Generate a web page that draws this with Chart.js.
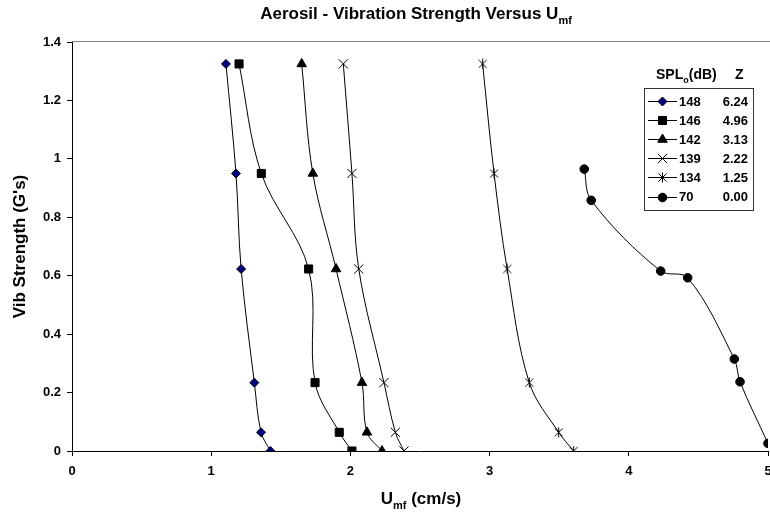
<!DOCTYPE html>
<html>
<head>
<meta charset="utf-8">
<script src="https://cdn.jsdelivr.net/npm/chart.js@4.4.1/dist/chart.umd.min.js"></script>
<style>
  html, body { margin: 0; padding: 0; background: #fff; }
  canvas { display: block; }
</style>
</head>
<body>
<canvas id="chart" width="770" height="519"></canvas>
<script>
// Vibration strength levels (G's), shared by the acoustic series
const vibStrength = [1.325, 0.95, 0.623, 0.234, 0.064, 0];
const vibStrength70 = [0.965, 0.858, 0.616, 0.593, 0.315, 0.237, 0.026];

// U_mf (cm/s) for each SPL level
const umf148 = [1.106, 1.178, 1.215, 1.31, 1.358, 1.425];
const umf146 = [1.20, 1.36, 1.70, 1.746, 1.92, 2.011];
const umf142 = [1.65, 1.73, 1.897, 2.083, 2.119, 2.227];
const umf139 = [1.949, 2.011, 2.06, 2.241, 2.323, 2.385];
const umf134 = [2.95, 3.032, 3.126, 3.285, 3.496, 3.604];
const umf70 = [3.68, 3.73, 4.229, 4.423, 4.758, 4.799, 5.0];

const splLabels = ['148', '146', '142', '139', '134', '70'];
const zValues = ['6.24', '4.96', '3.13', '2.22', '1.25', '0.00'];

const FONT = 'Liberation Sans, Arial, sans-serif';

// asterisk marker: X plus a vertical bar
function makeAsterisk() {
  const c = document.createElement('canvas');
  c.width = 11; c.height = 11;
  const g = c.getContext('2d');
  g.strokeStyle = '#000';
  g.lineWidth = 1;
  g.beginPath();
  g.moveTo(1.5, 1.5); g.lineTo(9.5, 9.5);
  g.moveTo(9.5, 1.5); g.lineTo(1.5, 9.5);
  g.moveTo(5.5, 0.5); g.lineTo(5.5, 10.5);
  g.stroke();
  return c;
}
const asterisk = makeAsterisk();

const toPoints = (xs, ys) => xs.map((x, i) => ({ x: x, y: ys[i] }));

const markers = [
  { style: 'rectRot', radius: 4.5, fill: '#000080' },
  { style: 'rect', radius: 5.7, fill: '#000' },
  { style: 'triangle', radius: 5.5, fill: '#000' },
  { style: 'crossRot', radius: 6.5, fill: '#000' },
  { style: asterisk, radius: 5, fill: '#000' },
  { style: 'circle', radius: 4.3, fill: '#000' }
];

const seriesData = [
  toPoints(umf148, vibStrength),
  toPoints(umf146, vibStrength),
  toPoints(umf142, vibStrength),
  toPoints(umf139, vibStrength),
  toPoints(umf134, vibStrength),
  toPoints(umf70, vibStrength70)
];

const datasets = seriesData.map((d, i) => ({
  label: splLabels[i],
  data: d,
  showLine: true,
  tension: 0.35,
  borderColor: '#000',
  borderWidth: 1,
  pointStyle: markers[i].style,
  pointRadius: markers[i].radius,
  pointBackgroundColor: markers[i].fill,
  pointBorderColor: '#000',
  pointBorderWidth: 1
}));

// draws text pieces with optional subscripts
function drawRich(ctx, parts, x, y, size, align) {
  ctx.save();
  ctx.fillStyle = '#000';
  ctx.textBaseline = 'alphabetic';
  ctx.textAlign = 'left';
  let total = 0;
  parts.forEach(p => {
    ctx.font = 'bold ' + (p.sub ? Math.round(size * 0.66) : size) + 'px ' + FONT;
    p.w = ctx.measureText(p.t).width;
    total += p.w;
  });
  let cx = align === 'center' ? x - total / 2 : x;
  parts.forEach(p => {
    ctx.font = 'bold ' + (p.sub ? Math.round(size * 0.66) : size) + 'px ' + FONT;
    ctx.fillText(p.t, cx, p.sub ? y + size * 0.28 : y);
    cx += p.w;
  });
  ctx.restore();
}

const decorations = {
  id: 'decorations',
  beforeDatasetsDraw(chart) {
    const { ctx, chartArea } = chart;
    ctx.save();
    ctx.strokeStyle = '#808080';
    ctx.lineWidth = 1;
    ctx.beginPath();
    ctx.moveTo(chartArea.left, chartArea.top - 0.5);
    ctx.lineTo(chartArea.right + 2, chartArea.top - 0.5);
    ctx.stroke();
    ctx.restore();
  },
  afterDraw(chart) {
    const { ctx } = chart;
    drawRich(ctx, [{ t: 'Aerosil - Vibration Strength Versus U' }, { t: 'mf', sub: true }], 416, 19, 17, 'center');
    drawRich(ctx, [{ t: 'U' }, { t: 'mf', sub: true }, { t: ' (cm/s)' }], 421, 504, 17, 'center');

    // legend table
    drawRich(ctx, [{ t: 'SPL' }, { t: 'o', sub: true }, { t: '(dB)' }], 656, 79, 14, 'left');
    drawRich(ctx, [{ t: 'Z' }], 735, 79, 14, 'left');
    ctx.save();
    ctx.strokeStyle = '#333';
    ctx.lineWidth = 1;
    ctx.strokeRect(644.5, 88.5, 109, 122);
    ctx.font = 'bold 13px ' + FONT;
    ctx.textBaseline = 'middle';
    ctx.fillStyle = '#000';
    splLabels.forEach((lab, i) => {
      const y = 101 + i * 19.1;
      ctx.strokeStyle = '#000';
      ctx.beginPath();
      ctx.moveTo(648, Math.round(y) + 0.5);
      ctx.lineTo(677, Math.round(y) + 0.5);
      ctx.stroke();
      ctx.fillStyle = markers[i].fill;
      Chart.helpers.drawPoint(ctx, {
        pointStyle: markers[i].style,
        radius: markers[i].radius,
        rotation: 0,
        borderWidth: 1
      }, 662.5, Math.round(y) + 0.5);
      ctx.fillStyle = '#000';
      ctx.textAlign = 'left';
      ctx.fillText(lab, 679, y + 1);
      ctx.textAlign = 'right';
      ctx.fillText(zValues[i], 748, y + 1);
    });
    ctx.restore();
  }
};

const tickFont = { family: FONT, size: 13, weight: 'bold' };
const trimZeros = v => String(Number(Number(v).toFixed(1)));

new Chart(document.getElementById('chart'), {
  type: 'scatter',
  data: { datasets: datasets },
  options: {
    responsive: false,
    animation: false,
    layout: { autoPadding: false, padding: { top: 42, right: 2, left: 0, bottom: 0 } },
    plugins: {
      legend: { display: false },
      title: { display: false },
      tooltip: { enabled: false }
    },
    scales: {
      x: {
        type: 'linear',
        min: 0,
        max: 5,
        ticks: { stepSize: 1, color: '#000', font: tickFont, padding: 8 },
        grid: { drawOnChartArea: false, color: '#000', tickLength: 5 },
        border: { color: '#000', width: 1 },
        afterFit(s) { s.height = 68; s.paddingLeft = 0; s.paddingRight = 0; }
      },
      y: {
        min: 0,
        max: 1.4,
        ticks: { stepSize: 0.2, color: '#000', font: tickFont, padding: 6, callback: trimZeros },
        grid: { drawOnChartArea: false, color: '#000', tickLength: 5 },
        border: { color: '#000', width: 1 },
        title: {
          display: true,
          text: "Vib Strength (G's)",
          color: '#000',
          font: { family: FONT, size: 17, weight: 'bold' },
          padding: { top: 10, bottom: 0 }
        },
        afterFit(s) { s.width = 72; s.paddingTop = 0; s.paddingBottom = 0; }
      }
    }
  },
  plugins: [decorations]
});
</script>
</body>
</html>
